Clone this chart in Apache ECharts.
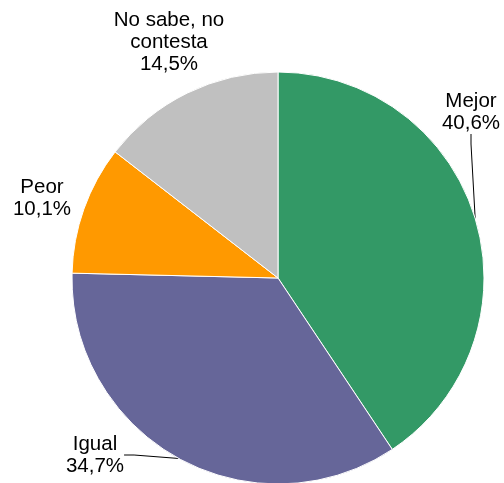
<!DOCTYPE html>
<html>
<head>
<meta charset="utf-8">
<script src="https://cdn.jsdelivr.net/npm/echarts@6/dist/echarts.min.js"></script>
<style>html,body{margin:0;padding:0;background:#fff;}#c{width:504px;height:483px;}</style>
</head>
<body>
<div id="c"></div>
<script>
const categories = ['Mejor', 'Igual', 'Peor', 'No sabe, no\ncontesta'];
const values = [40.6, 34.7, 10.1, 14.5];
const colors = ['#339966', '#666699', '#FF9900', '#C0C0C0'];
const labelPos = [[471, 112], [95, 455], [42, 198], [169, 42]];
const showLine = [true, true, false, false];

const chart = echarts.init(document.getElementById('c'), null, {renderer: 'canvas'});
chart.setOption({
  animation: false,
  series: [{
    type: 'pie',
    center: [278, 278],
    radius: [0, 206],
    startAngle: 90,
    clockwise: true,
    avoidLabelOverlap: false,
    itemStyle: {borderColor: '#fff', borderWidth: 1},
    label: {
      show: true,
      position: 'outside',
      fontFamily: 'Liberation Sans, Arial, sans-serif',
      fontSize: 20.5,
      lineHeight: 22,
      color: '#000',
      align: 'center',
      formatter: p => p.name + '\n' + p.value.toFixed(1).replace('.', ',') + '%'
    },
    labelLine: {show: true, length: 10, length2: 10, lineStyle: {color: '#000', width: 1}},
    labelLayout: function (params) {
      const pos = labelPos[params.dataIndex];
      return {x: pos[0], y: pos[1], align: 'center', verticalAlign: 'middle'};
    },
    data: categories.map((c, i) => ({
      name: c,
      value: values[i],
      itemStyle: {color: colors[i]},
      labelLine: {show: showLine[i]}
    }))
  }]
});
</script>
</body>
</html>
